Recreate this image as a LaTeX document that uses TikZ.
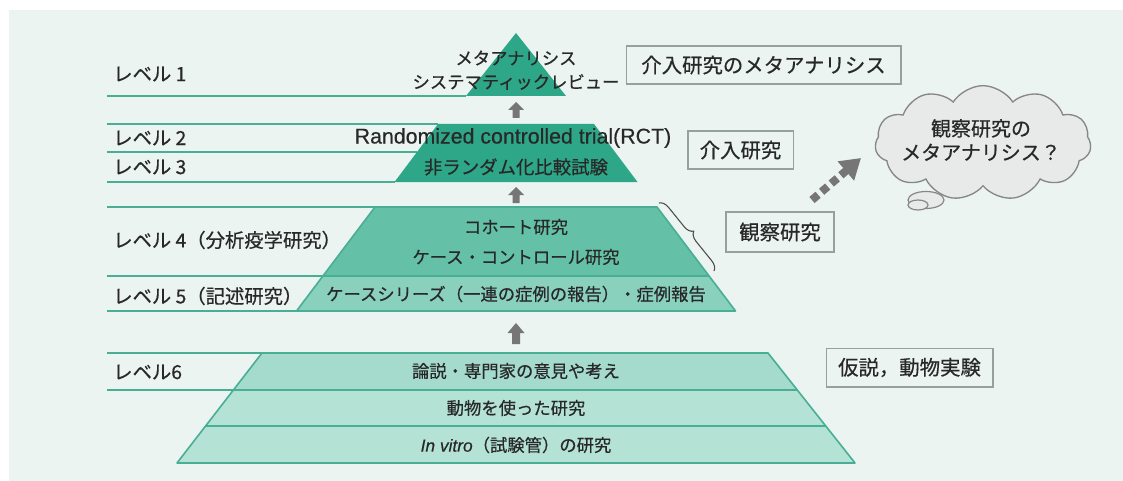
\documentclass[tikz,border=0pt]{standalone}
\usepackage{fontspec}
\setmainfont{Noto Sans CJK JP}[FakeBold=0.5]
\newfontfamily\latinfont{Liberation Sans}[FakeBold=0.4]
\usetikzlibrary{shapes.symbols,decorations.pathreplacing,arrows.meta}
\definecolor{bgc}{RGB}{235,244,241}
\definecolor{dk}{RGB}{46,166,136}
\definecolor{md}{RGB}{100,193,168}
\definecolor{lt}{RGB}{137,208,189}
\definecolor{plA}{RGB}{164,219,204}
\definecolor{plB}{RGB}{180,227,214}
\definecolor{edge}{RGB}{72,174,148}
\definecolor{boxline}{RGB}{150,160,158}
\definecolor{arr}{RGB}{118,118,118}
\definecolor{txt}{RGB}{40,40,40}
\definecolor{cloudfill}{RGB}{232,233,233}
\definecolor{cloudline}{RGB}{135,135,135}
\begin{document}
\begin{tikzpicture}[x=0.75pt,y=-0.75pt,
  lvline/.style={draw=edge,line width=1.5pt},
  pedge/.style={draw=edge,line width=1.2pt,line join=round},
  lvlabel/.style={anchor=west,font=\fontsize{14.5pt}{16pt}\selectfont,text=txt,inner sep=0pt},
  ptext/.style={font=\fontsize{13pt}{15pt}\selectfont,text=txt,inner sep=0pt},
  rbox/.style={draw=boxline,line width=1pt,fill=bgc,font=\fontsize{15.3pt}{17pt}\selectfont,text=txt,inner sep=0pt},
  uparr/.style={fill=arr}]
\useasboundingbox (0,0) rectangle (1123,481);
\fill[white] (0,0) rectangle (1123,481);
\fill[bgc] (9,10) rectangle (1123,481);

% level lines on the left
\draw[lvline] (107,96) -- (466,96);
\draw[lvline] (107,124) -- (438,124);
\draw[lvline] (107,152) -- (417,152);
\draw[lvline] (107,182) -- (394.5,182);
\draw[lvline] (107,207) -- (375,207);
\draw[lvline] (107,276) -- (323,276);
\draw[lvline] (107,311) -- (296.5,311);
\draw[lvline] (107,353) -- (262,353);
\draw[lvline] (107,390) -- (233.4,390);

% pyramid
\fill[dk] (516,33) -- (566,96) -- (466,96) -- cycle;
\fill[dk] (438,124) -- (594,124) -- (637.5,182) -- (394.5,182) -- cycle;
\fill[md] (375,207) -- (657,207) -- (709,276) -- (323,276) -- cycle;
\fill[lt] (323,276) -- (709,276) -- (735.5,311) -- (296.5,311) -- cycle;
\draw[pedge] (375,207) -- (657,207) -- (735.5,311) -- (296.5,311) -- cycle;
\draw[pedge] (323,276) -- (709,276);
\fill[plA] (262,353) -- (768,353) -- (797.3,390) -- (233.4,390) -- cycle;
\fill[plB] (233.4,390) -- (797.3,390) -- (825.7,426) -- (205.6,426) -- cycle;
\fill[plB] (205.6,426) -- (825.7,426) -- (855,463) -- (177,463) -- cycle;
\draw[pedge] (262,353) -- (768,353) -- (855,463) -- (177,463) -- cycle;
\draw[pedge] (233.4,390) -- (797.3,390);
\draw[pedge] (205.6,426) -- (825.7,426);

% up arrows
\fill[uparr] (516,102) -- (524,110) -- (519.5,110) -- (519.5,118) -- (512.5,118) -- (512.5,110) -- (508,110) -- cycle;
\fill[uparr] (516,187) -- (524,195) -- (519.5,195) -- (519.5,203) -- (512.5,203) -- (512.5,195) -- (508,195) -- cycle;
\fill[uparr] (516,323) -- (524.5,333) -- (520,333) -- (520,344) -- (512,344) -- (512,333) -- (507.5,333) -- cycle;

% texts in pyramid
\node[ptext] (t1a) at (516,58) {メタアナリシス};
\node[ptext] (t1b) at (516,82) {システマティックレビュー};
\node[inner sep=0pt,text=txt,font=\latinfont\fontsize{16pt}{18pt}\selectfont] (t2) at (513,138) {Randomized controlled trial(RCT)};
\node[ptext,font=\fontsize{13.8pt}{15pt}\selectfont] (t3) at (516,167) {非ランダム化比較試験};
\node[ptext] (t4a) at (516,227) {コホート研究};
\node[ptext] (t4b) at (516,257) {ケース・コントロール研究};
\node[ptext] (t5) at (516,294) {ケースシリーズ（一連の症例の報告）・症例報告};
\node[ptext] (t6a) at (516,371) {論説・専門家の意見や考え};
\node[ptext] (t6b) at (516,408) {動物を使った研究};
\node[ptext] (t6c) at (516,445) {{\latinfont\itshape In vitro}（試験管）の研究};

% level labels
\node[lvlabel] (l1) at (113,74) {レベル 1};
\node[lvlabel] (l2) at (113,138) {レベル 2};
\node[lvlabel] (l3) at (113,167) {レベル 3};
\node[lvlabel] (l4) at (113,240) {レベル 4（分析疫学研究）};
\node[lvlabel] (l5) at (113,296) {レベル 5（記述研究）};
\node[lvlabel] (l6) at (113,372) {レベル6};

% right boxes
\node[rbox,minimum width=206pt,minimum height=28.5pt] (b1) at (763.5,65) {介入研究のメタアナリシス};
\node[rbox,minimum width=79pt,minimum height=28.5pt] (b2) at (740.5,150) {介入研究};
\node[rbox,minimum width=81pt,minimum height=30pt] (b3) at (780,232) {観察研究};
\node[rbox,minimum width=125pt,minimum height=29pt] (b4) at (909.5,367.5) {仮説，動物実験};

% brace
\coordinate (brA) at (659,203);
\coordinate (brB) at (714,271);
\draw[draw=black!70,line width=0.8pt,decorate,decoration={brace,amplitude=7pt}] (brA) -- (brB);

% cloud
\node[cloud,cloud puffs=11,cloud puff arc=115,aspect=1.9,draw=cloudline,fill=cloudfill,line width=1pt,minimum width=162pt,minimum height=86pt,inner sep=0pt] (cl) at (983,143) {};
\node[align=center,text=txt,font=\fontsize{15pt}{18pt}\selectfont,inner sep=0pt] (clt) at (981,140) {観察研究の\\メタアナリシス？};
\draw[draw=cloudline,fill=cloudfill,line width=0.9pt] (926,200) ellipse [x radius=18, y radius=8.5];
\draw[draw=cloudline,fill=cloudfill,line width=0.9pt] (918,205) ellipse [x radius=10, y radius=5];

% dotted arrow
\coordinate (dA) at (812,200);
\coordinate (dB) at (861,158);
\draw[draw=arr,line width=6pt,dash pattern=on 6pt off 3.5pt,-{Triangle[length=15pt,width=18pt]}] (dA) -- (dB);
\end{tikzpicture}
\end{document}
